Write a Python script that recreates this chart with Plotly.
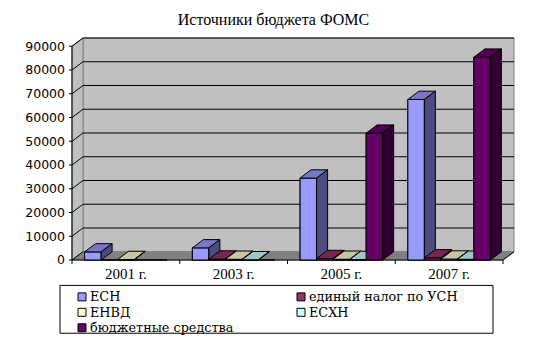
import plotly.graph_objects as go

# ---- data -------------------------------------------------------------
years = ["2001 г.", "2003 г.", "2005 г.", "2007 г."]
series_names = ["ЕСН", "единый налог по УСН", "ЕНВД", "ЕСХН", "бюджетные средства"]
esn = [3400, 5100, 34500, 67600]
usn = [0, 400, 600, 900]
envd = [200, 300, 300, 400]
eshn = [0, 100, 200, 300]
budget = [0, 0, 53400, 85400]
series_values = [esn, usn, envd, eshn, budget]
series_colors = ["#9999FF", "#993366", "#FFFFCC", "#CCFFFF", "#660066"]
y_ticks = list(range(0, 90001, 10000))
Y_MAX = 90000

SERIF = "Liberation Serif"
LEGEND_FONT = "DejaVu Serif"
SANS = "DejaVu Sans"

# ---- geometry of the pseudo-3D box (pixels) ---------------------------
W, H = 547, 341
FRONT_LEFT_PX, FRONT_RIGHT_PX = 72, 503   # front edge of the floor
FRONT_BOTTOM_PX, FRONT_TOP_PX = 260.5, 46  # y of 0 and of Y_MAX on the front plane
DEPTH_DX_PX, DEPTH_DY_PX = 11, 8.3         # depth offset of walls and columns
PAD = 2                                    # keep edge lines inside the clip area

n_cat = len(years)
x_unit_px = (FRONT_RIGHT_PX - FRONT_LEFT_PX) / n_cat
y_unit_px = (FRONT_BOTTOM_PX - FRONT_TOP_PX) / Y_MAX
DX = DEPTH_DX_PX / x_unit_px
DY = DEPTH_DY_PX / y_unit_px
PX_X = PAD / x_unit_px
PX_Y = PAD / y_unit_px

x_lo, x_hi = -0.5 - PX_X, n_cat - 0.5 + DX + PX_X
y_lo, y_hi = -PX_Y, Y_MAX + DY + PX_Y

m_l = FRONT_LEFT_PX - PAD
m_r = W - (FRONT_RIGHT_PX + DEPTH_DX_PX + PAD)
m_t = FRONT_TOP_PX - DEPTH_DY_PX - PAD
m_b = H - (FRONT_BOTTOM_PX + PAD)
plot_w = W - m_l - m_r
plot_h = H - m_t - m_b


def paper_x(px):
    return (px - m_l) / plot_w


def paper_y(py):
    return 1 - (py - m_t) / plot_h


def yval_paper(v):
    return (v - y_lo) / (y_hi - y_lo)


def shade(hex_color, k):
    h = hex_color.lstrip("#")
    r, g, b = (int(h[i:i + 2], 16) for i in (0, 2, 4))
    return "rgb({},{},{})".format(int(r * k), int(g * k), int(b * k))


GROUP = 0.766
BAR_W = GROUP / len(series_names)

fig = go.Figure()

# front faces as ordinary bars
for i, (name, vals, col) in enumerate(zip(series_names, series_values, series_colors)):
    fig.add_trace(go.Bar(
        x=list(range(n_cat)), y=vals, name=name,
        width=BAR_W, offset=-GROUP / 2 + i * BAR_W,
        marker=dict(color=col, line=dict(color="black", width=1)),
        showlegend=False, hoverinfo="skip",
    ))

# solid faces of every column, painted left to right so nearer ones cover
for c in range(n_cat):
    for i, (vals, col) in enumerate(zip(series_values, series_colors)):
        v = vals[c]
        if v <= 0:
            continue
        l = c - GROUP / 2 + i * BAR_W
        r = l + BAR_W
        faces = [
            ([l, r, r, l, l], [0, 0, v, v, 0], col),
            ([l, r, r + DX, l + DX, l], [v, v, v + DY, v + DY, v], shade(col, 0.78)),
            ([r, r + DX, r + DX, r, r], [0, DY, v + DY, v, 0], shade(col, 0.5)),
        ]
        for fx, fy, fc in faces:
            fig.add_trace(go.Scatter(
                x=fx, y=fy, mode="lines", fill="toself", fillcolor=fc,
                line=dict(color="black", width=1), showlegend=False, hoverinfo="skip",
            ))

shapes = []
grey, wall = "#808080", "#C0C0C0"
x0f, x1f = -0.5, n_cat - 0.5
# back wall
shapes.append(dict(type="rect", xref="x", yref="y", x0=x0f + DX, x1=x1f + DX, y0=DY, y1=Y_MAX + DY,
                   fillcolor=wall, line=dict(color=grey, width=1), layer="below"))
# left wall
shapes.append(dict(type="path", xref="x", yref="y",
                   path=f"M{x0f},0 L{x0f + DX},{DY} L{x0f + DX},{Y_MAX + DY} L{x0f},{Y_MAX} Z",
                   fillcolor=wall, line=dict(color=grey, width=1), layer="below"))
# floor
shapes.append(dict(type="path", xref="x", yref="y",
                   path=f"M{x0f},0 L{x1f},0 L{x1f + DX},{DY} L{x0f + DX},{DY} Z",
                   fillcolor=grey, line=dict(color=grey, width=1), layer="below"))
# gridlines on the back wall and their diagonal ticks on the side wall
for v in y_ticks[1:]:
    shapes.append(dict(type="line", xref="x", yref="y", x0=x0f + DX, x1=x1f + DX, y0=v + DY, y1=v + DY,
                       line=dict(color="black", width=1), layer="below"))
for v in y_ticks:
    shapes.append(dict(type="line", xref="x", yref="y", x0=x0f, x1=x0f + DX, y0=v, y1=v + DY,
                       line=dict(color="black", width=1), layer="below"))
# front axis lines
shapes.append(dict(type="line", xref="x", yref="y", x0=x0f, x1=x0f, y0=0, y1=Y_MAX,
                   line=dict(color="black", width=1), layer="below"))
shapes.append(dict(type="line", xref="x", yref="y", x0=x0f, x1=x1f, y0=0, y1=0,
                   line=dict(color="black", width=1), layer="below"))
shapes.append(dict(type="line", xref="x", yref="y", x0=x1f, x1=x1f + DX, y0=0, y1=DY,
                   line=dict(color="black", width=1), layer="below"))
# tick marks
for v in y_ticks:
    shapes.append(dict(type="line", xref="paper", yref="y", x0=paper_x(FRONT_LEFT_PX - 3),
                       x1=paper_x(FRONT_LEFT_PX), y0=v, y1=v, line=dict(color="black", width=1)))
for k in range(n_cat + 1):
    shapes.append(dict(type="line", xref="x", yref="paper", x0=k - 0.5, x1=k - 0.5,
                       y0=yval_paper(0), y1=paper_y(FRONT_BOTTOM_PX + 4), line=dict(color="black", width=1)))

# legend box
LEG_L, LEG_R, LEG_T, LEG_B = 60, 493, 286, 334
shapes.append(dict(type="rect", xref="paper", yref="paper", x0=paper_x(LEG_L), x1=paper_x(LEG_R),
                   y0=paper_y(LEG_B), y1=paper_y(LEG_T), fillcolor="white",
                   line=dict(color="black", width=1)))
legend_slots = [(82, 297.5), (301, 297.5), (82, 313), (301, 313), (82, 328.5)]
annotations = []
for (cx, cy), name, col in zip(legend_slots, series_names, series_colors):
    shapes.append(dict(type="rect", xref="paper", yref="paper",
                       x0=paper_x(cx - 4), x1=paper_x(cx + 4), y0=paper_y(cy + 4), y1=paper_y(cy - 4),
                       fillcolor=col, line=dict(color="black", width=1)))
    annotations.append(dict(xref="paper", yref="paper", x=paper_x(cx + 7), y=paper_y(cy),
                            xanchor="left", yanchor="middle", text=name, showarrow=False,
                            borderpad=0,
                            font=dict(family=LEGEND_FONT, size=12.8, color="black")))

fig.update_layout(
    width=W, height=H,
    margin=dict(l=m_l, r=m_r, t=m_t, b=m_b, pad=0),
    paper_bgcolor="white", plot_bgcolor="white",
    barmode="overlay",
    font=dict(family=SERIF, color="black"),
    title=dict(text="Источники бюджета ФОМС", x=0.5, xref="container", xanchor="center",
               y=1 - 19 / H, yref="container", yanchor="middle",
               font=dict(family=SERIF, size=16, color="black")),
    xaxis=dict(range=[x_lo, x_hi], tickvals=list(range(n_cat)), ticktext=years,
               showgrid=False, zeroline=False, showline=False, ticks="",
               ticklabelstandoff=1,
               tickfont=dict(family=SERIF, size=15, color="black")),
    yaxis=dict(range=[y_lo, y_hi], tickvals=y_ticks, ticktext=[str(v) for v in y_ticks],
               showgrid=False, zeroline=False, showline=False, ticks="",
               ticklabelstandoff=4,
               tickfont=dict(family=SANS, size=12.5, color="black")),
    shapes=shapes,
    annotations=annotations,
    showlegend=False,
)

fig.write_html("out.html")
